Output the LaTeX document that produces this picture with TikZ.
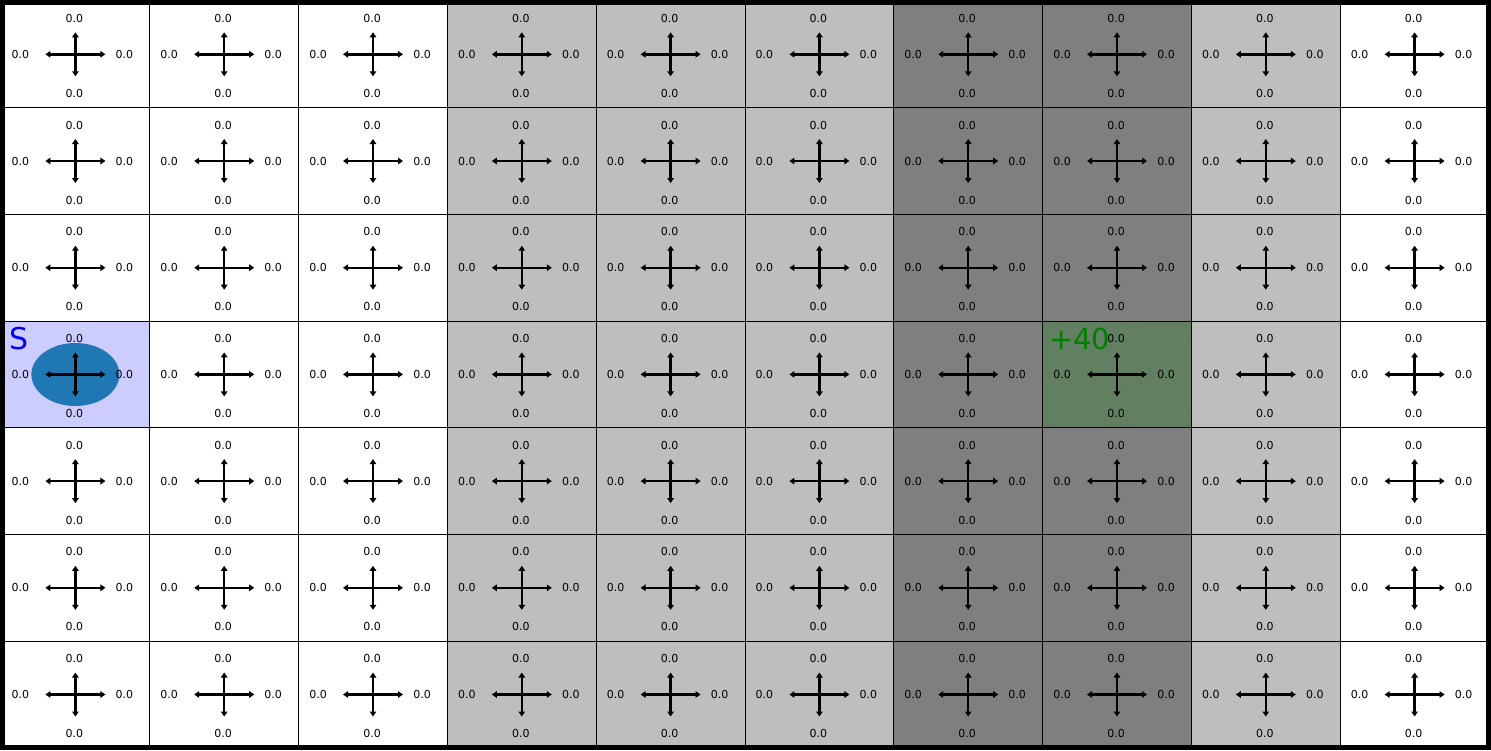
\documentclass[tikz,border=0pt]{standalone}
\usepackage{fontspec}
\setmainfont{DejaVu Sans}
\usetikzlibrary{arrows.meta,shapes.geometric}
\definecolor{lgray}{RGB}{190,190,190}
\definecolor{dgray}{RGB}{127,127,127}
\definecolor{startc}{RGB}{204,204,255}
\definecolor{goalc}{RGB}{98,127,98}
\definecolor{agentc}{RGB}{31,119,180}
\definecolor{goaltext}{RGB}{0,128,0}
\begin{document}
\begin{tikzpicture}[x=1pt,y=-1pt,
  val/.style={font=\fontsize{11}{13}\selectfont, inner sep=0pt},
  arr/.style={line width=2.4pt,-{Triangle[length=5pt,width=6.5pt]}},
  gridline/.style={line width=0.8pt, black}]
\useasboundingbox (0,0) rectangle (1491,750);
\fill[white] (0,0) rectangle (1491,750);
% column fills
\foreach \c/\col in {3/lgray,4/lgray,5/lgray,6/dgray,7/dgray,8/lgray}{
  \fill[\col] ({1+\c*148.8},1) rectangle ++(148.8,746.9);
}
\fill[startc] (1,{1+3*106.7}) rectangle ++(148.8,106.7);
\fill[goalc] ({1+7*148.8},{1+3*106.7}) rectangle ++(148.8,106.7);
% grid
\foreach \c in {1,...,9}{
  \draw[gridline] ({1+\c*148.8},1) -- ({1+\c*148.8},748);
}
\foreach \r in {1,...,6}{
  \draw[gridline] (1,{1+\r*106.7}) -- (1489,{1+\r*106.7});
}
% agent
\node[ellipse, fill=agentc, minimum width=88pt, minimum height=63pt, inner sep=0pt] (agent) at (75.4,374.5) {};
% arrows and values
\foreach \c in {0,...,9}{
  \foreach \r in {0,...,6}{
    \coordinate (p-\c-\r) at ({75.4+\c*148.8},{54.3+\r*106.7});
    \draw[arr] (p-\c-\r) -- ++(30,0);
    \draw[arr] (p-\c-\r) -- ++(-30,0);
    \draw[arr] (p-\c-\r) -- ++(0,-22);
    \draw[arr] (p-\c-\r) -- ++(0,22);
    \node[val] (t-\c-\r) at ([shift={(-1,-36)}]p-\c-\r) {0.0};
    \node[val] (b-\c-\r) at ([shift={(-1,39)}]p-\c-\r) {0.0};
    \node[val] (l-\c-\r) at ([shift={(-55,0)}]p-\c-\r) {0.0};
    \node[val] (r-\c-\r) at ([shift={(49,0)}]p-\c-\r) {0.0};
  }
}
\node[anchor=base west, text=blue, font=\fontsize{30}{30}\selectfont, inner sep=0pt] (s) at (9,349) {S};
\node[anchor=base west, text=goaltext, font=\fontsize{29}{29}\selectfont, inner sep=0pt] (goal) at (1049,349) {+40};
% outer border
\draw[line width=5pt] (2.5,2.5) rectangle (1488.5,747.5);
\end{tikzpicture}
\end{document}
